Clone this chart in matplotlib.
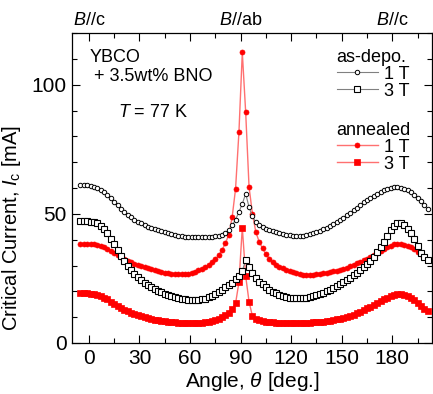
import numpy as np
import matplotlib
matplotlib.use("Agg")
import matplotlib.pyplot as plt
from matplotlib.lines import Line2D
from matplotlib.ticker import MultipleLocator

plt.rcParams['font.family'] = ['Liberation Sans', 'DejaVu Sans']
plt.rcParams['mathtext.fontset'] = 'custom'
plt.rcParams['mathtext.rm'] = 'Liberation Sans'
plt.rcParams['mathtext.it'] = 'Liberation Sans:italic'

# Angle grid (deg.)
angle = np.arange(-5, 202, 2)

asdepo_1T = [
    61.3, 61.2, 61.0, 60.8, 60.5, 60.0, 59.4, 58.5, 57.3, 56.0,
    54.6, 53.3, 52.0, 50.8, 49.7, 48.7, 47.8, 47.0, 46.3, 45.6,
    45.0, 44.5, 44.0, 43.6, 43.2, 42.8, 42.5, 42.2, 41.9, 41.6,
    41.4, 41.2, 41.1, 41.0, 41.0, 40.9, 40.9, 41.0, 41.0, 41.1,
    41.3, 41.6, 42.0, 42.6, 43.6, 45.5, 47.8, 50.7, 53.9, 57.8,
    52.6, 49.0, 46.8, 45.6, 44.9, 44.3, 43.8, 43.4, 43.0, 42.6,
    42.3, 42.0, 41.8, 41.6, 41.5, 41.5, 41.6, 41.8, 42.1, 42.5,
    43.0, 43.5, 44.0, 44.6, 45.3, 46.0, 46.8, 47.6, 48.5, 49.4,
    50.4, 51.4, 52.4, 53.4, 54.4, 55.3, 56.2, 57.0, 57.8, 58.5,
    59.1, 59.6, 60.0, 60.2, 60.3, 60.1, 59.7, 59.1, 58.3, 57.3,
    56.1, 54.8, 53.4, 52.0]

asdepo_3T = [
    47.2, 47.2, 47.1, 47.0, 46.8, 46.3, 45.4, 44.1, 42.4, 40.4,
    38.2, 35.9, 33.7, 31.7, 29.9, 28.3, 26.9, 25.6, 24.4, 23.3,
    22.4, 21.6, 20.9, 20.2, 19.6, 19.1, 18.6, 18.2, 17.8, 17.5,
    17.2, 17.0, 16.8, 16.7, 16.6, 16.7, 16.9, 17.2, 17.7, 18.3,
    19.0, 19.8, 20.6, 21.5, 22.4, 23.4, 24.6, 26.0, 28.0, 32.0,
    29.5, 27.0, 25.0, 23.8, 22.7, 21.6, 20.7, 19.9, 19.2, 18.7,
    18.3, 17.9, 17.6, 17.4, 17.3, 17.3, 17.4, 17.6, 17.9, 18.2,
    18.6, 19.0, 19.5, 20.0, 20.6, 21.2, 21.9, 22.7, 23.5, 24.4,
    25.3, 26.2, 27.2, 28.3, 29.4, 30.6, 31.9, 33.4, 35.1, 37.0,
    39.2, 41.5, 43.6, 45.3, 46.3, 46.4, 45.6, 44.3, 42.6, 40.3,
    37.6, 35.0, 33.2, 32.3]

annealed_1T = [
    38.4, 38.4, 38.4, 38.4, 38.3, 38.1, 37.7, 37.2, 36.5, 35.7,
    34.9, 34.1, 33.3, 32.6, 31.9, 31.3, 30.7, 30.2, 29.7, 29.3,
    28.9, 28.5, 28.1, 27.8, 27.5, 27.2, 27.0, 26.8, 26.7, 26.6,
    26.6, 26.7, 26.9, 27.2, 27.6, 28.1, 28.7, 29.4, 30.2, 31.2,
    32.4, 34.0, 36.0, 38.6, 42.0, 48.8, 59.7, 81.6, 112.5, 89.3,
    60.4, 50.1, 43.0, 39.2, 36.6, 34.5, 32.6, 31.3, 30.3, 29.5,
    28.9, 28.3, 27.8, 27.4, 27.0, 26.7, 26.5, 26.4, 26.4, 26.5,
    26.6, 26.8, 27.0, 27.2, 27.4, 27.7, 28.0, 28.4, 28.8, 29.2,
    29.7, 30.2, 30.8, 31.4, 32.0, 32.7, 33.4, 34.1, 34.8, 35.6,
    36.4, 37.1, 37.7, 38.2, 38.5, 38.4, 38.1, 37.6, 37.0, 36.2,
    35.3, 34.3, 33.2, 32.2]

annealed_3T = [
    19.2, 19.2, 19.2, 19.1, 19.0, 18.7, 18.2, 17.6, 16.9, 16.0,
    15.1, 14.3, 13.6, 12.9, 12.3, 11.7, 11.2, 10.7, 10.3, 9.9,
    9.6, 9.3, 9.0, 8.8, 8.6, 8.4, 8.3, 8.1, 8.0, 7.9,
    7.8, 7.8, 7.8, 7.8, 7.8, 7.8, 7.9, 8.0, 8.1, 8.4,
    8.8, 9.3, 10.0, 10.8, 11.8, 13.2, 15.3, 23.5, 44.7, 25.9,
    16.0, 10.4, 9.3, 8.8, 8.5, 8.3, 8.1, 8.0, 7.9, 7.8,
    7.8, 7.8, 7.8, 7.8, 7.8, 7.8, 7.8, 7.8, 7.9, 8.0,
    8.1, 8.2, 8.3, 8.5, 8.7, 8.9, 9.1, 9.4, 9.7, 10.1,
    10.5, 11.0, 11.5, 12.1, 12.7, 13.4, 14.1, 14.8, 15.5, 16.2,
    16.9, 17.6, 18.2, 18.7, 18.9, 18.9, 18.6, 18.1, 17.4, 16.5,
    15.5, 14.4, 13.3, 12.3]

field_labels = ["1 T", "3 T"]
top_ticks = [0, 90, 180]
top_labels = ["$B$//c", "$B$//ab", "$B$//c"]

fig = plt.figure(figsize=(4.33, 3.94), dpi=100)
ax = fig.add_axes([72/433, 1-343/394, 360/433, 310/394])

red = '#ff0000'
lred = '#ff7070'

s_ad1 = dict(color='#808080', lw=0.8, marker='o', ms=3.2, mfc='white', mec='black', mew=0.7)
s_ad3 = dict(color='#808080', lw=0.8, marker='s', ms=4.6, mfc='white', mec='black', mew=0.8)
s_an1 = dict(color=lred, lw=1.0, marker='o', ms=3.6, mfc=red, mec=red, mew=0.5)
s_an3 = dict(color=lred, lw=1.0, marker='s', ms=4.2, mfc=red, mec=red, mew=0.5)

ax.plot(angle, annealed_3T, **s_an3, zorder=3)
ax.plot(angle, annealed_1T, **s_an1, zorder=3)
ax.plot(angle, asdepo_3T, **s_ad3, zorder=4)
ax.plot(angle, asdepo_1T, **s_ad1, zorder=4)

ax.set_xlim(-10, 203.5)
ax.set_ylim(0, 120)
ax.xaxis.set_major_locator(MultipleLocator(30))
ax.xaxis.set_minor_locator(MultipleLocator(15))
ax.yaxis.set_major_locator(MultipleLocator(50))
ax.yaxis.set_minor_locator(MultipleLocator(10))
ax.tick_params(which='both', direction='in', top=True, right=True, labelsize=15, pad=4)
ax.tick_params(which='major', length=6, width=0.8)
ax.tick_params(which='minor', length=3.5, width=0.8)
for sp in ax.spines.values():
    sp.set_linewidth(0.9)

ax.set_xlabel(r"Angle, $\theta$ [deg.]", fontsize=15, labelpad=2)
ax.set_ylabel(r"Critical Current, $I_{\mathrm{c}}$ [mA]", fontsize=14.5)
ax.yaxis.set_label_coords(-0.135, 0.37)

for t, lab in zip(top_ticks, top_labels):
    ax.text(t, 1.04, lab, transform=ax.get_xaxis_transform(), ha='center', va='center', fontsize=13)

ax.text(0.048, 0.922, "YBCO", transform=ax.transAxes, fontsize=13, va='center')
ax.text(0.062, 0.860, "+ 3.5wt% BNO", transform=ax.transAxes, fontsize=13, va='center')
ax.text(0.128, 0.745, "$T$ = 77 K", transform=ax.transAxes, fontsize=13, va='center')

h1 = [Line2D([], [], **s_ad1), Line2D([], [], **s_ad3)]
h2 = [Line2D([], [], **s_an1), Line2D([], [], **s_an3)]
leg1 = ax.legend(h1, field_labels, title="as-depo.", loc='upper left',
                 bbox_to_anchor=(0.70, 0.99), frameon=False, fontsize=13,
                 title_fontsize=13, handlelength=2.3, handletextpad=0.3,
                 labelspacing=0.0, borderpad=0.2, alignment='left')
ax.add_artist(leg1)
ax.legend(h2, field_labels, title="annealed", loc='upper left',
          bbox_to_anchor=(0.70, 0.755), frameon=False, fontsize=13,
          title_fontsize=13, handlelength=2.3, handletextpad=0.3,
          labelspacing=0.0, borderpad=0.2, alignment='left')

fig.savefig("out.png", dpi=100)
